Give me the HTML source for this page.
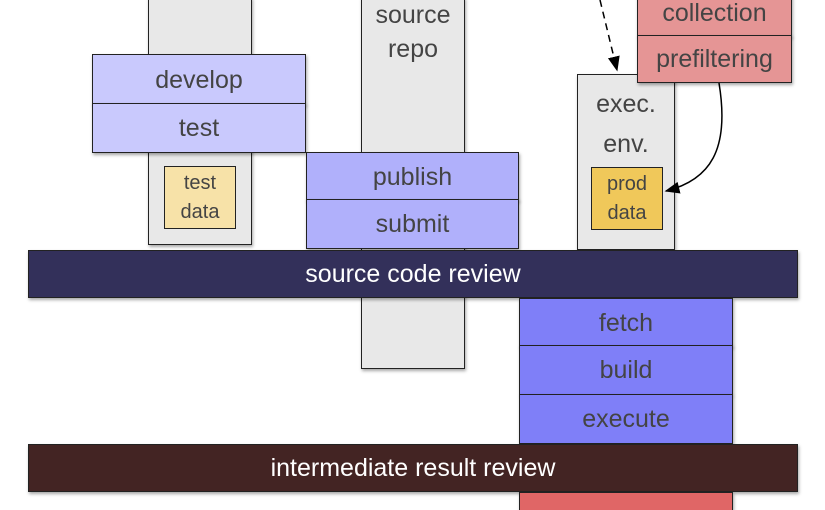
<!DOCTYPE html>
<html><head><style>
html,body{margin:0;width:825px;height:510px;overflow:hidden;}
body{background:#fff;position:relative;font-family:"Liberation Sans",sans-serif;}
.b{position:absolute;box-sizing:border-box;border:1.5px solid #222;display:flex;align-items:center;justify-content:center;text-align:center;color:#444;font-size:25px;line-height:30px;box-shadow:1px 2px 3px rgba(0,0,0,.35);}
.g{background:#e8e8e8}
.s{font-size:20px;line-height:29px;box-shadow:none}
</style></head><body>
<div class="b g" style="left:148px;top:-3px;width:104px;height:248px"></div>
<div class="b g" style="left:361px;top:-3px;width:104px;height:372px;align-items:flex-start;padding-top:0;line-height:34px">source<br>repo</div>
<div class="b g" style="left:577px;top:74px;width:98px;height:176px;align-items:flex-start;padding-top:9px;line-height:40px">exec.<br>env.</div>
<div class="b s" style="left:164px;top:166px;width:72px;height:63px;background:#f7e2a8">test<br>data</div>
<div class="b s" style="left:591px;top:167px;width:72px;height:63px;background:#f0c85a">prod<br>data</div>
<div class="b" style="left:92px;top:54px;width:214px;height:51px;background:#c9c9fd">develop</div>
<div class="b" style="left:92px;top:103px;width:214px;height:50px;background:#c9c9fd">test</div>
<div class="b" style="left:306px;top:152px;width:213px;height:49px;background:#b0b0fb">publish</div>
<div class="b" style="left:306px;top:199px;width:213px;height:50px;background:#b0b0fb">submit</div>
<div class="b" style="left:637px;top:-12px;width:155px;height:49px;background:#e59595">collection</div>
<div class="b" style="left:637px;top:35px;width:155px;height:48px;background:#e59595">prefiltering</div>
<div class="b" style="left:28px;top:250px;width:770px;height:48px;background:#33305a;color:#fff">source code review</div>
<div class="b" style="left:519px;top:298px;width:214px;height:49px;background:#7f7ff8">fetch</div>
<div class="b" style="left:519px;top:345px;width:214px;height:50px;background:#7f7ff8">build</div>
<div class="b" style="left:519px;top:394px;width:214px;height:50px;background:#7f7ff8">execute</div>
<div class="b" style="left:28px;top:444px;width:770px;height:48px;background:#432423;color:#fff">intermediate result review</div>
<div class="b" style="left:519px;top:492px;width:214px;height:18px;background:#e06666;border-bottom:none"></div>
<svg width="825" height="510" style="position:absolute;left:0;top:0">
<defs><marker id="a" markerWidth="10" markerHeight="10" refX="9" refY="5" orient="auto"><path d="M0,1 L10,5 L0,9 Z" fill="#000"/></marker></defs>
<path d="M600,0 L617,70" stroke="#000" stroke-width="1.5" stroke-dasharray="7,5" fill="none" marker-end="url(#a)"/>
<path d="M719,83 C730,150 710,180 666,191" stroke="#000" stroke-width="1.5" fill="none" marker-end="url(#a)"/>
</svg>
</body></html>
